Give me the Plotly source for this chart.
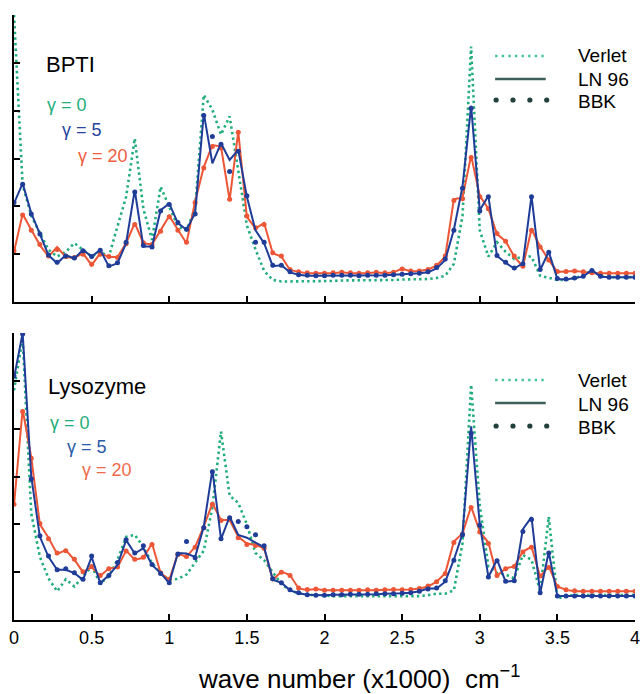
import plotly.graph_objects as go

# Wave number grid, in units of 1000 cm^-1 (73 samples from 0 to 4)
WAVE = [round(i * 4.0 / 72, 5) for i in range(73)]

# ---- BPTI spectra ----
BPTI_VERLET = [
    6.0, 2.45, 1.8, 1.44, 1.09, 0.95, 1.05, 1.23, 1.09, 0.95,
    1.05, 0.95, 1.58, 2.2, 3.42, 1.95, 1.3, 2.41, 1.99, 1.58,
    1.5, 1.95, 4.33, 4.02, 3.5, 3.88, 2.75, 1.6, 1.1, 0.65,
    0.46, 0.43, 0.43, 0.43, 0.43, 0.43, 0.44, 0.44, 0.45, 0.45,
    0.45, 0.46, 0.46, 0.46, 0.46, 0.47, 0.47, 0.47, 0.48, 0.5,
    0.55, 0.8, 1.8, 5.34, 1.5, 0.95, 1.25, 1.05, 0.9, 0.95,
    0.95, 0.55, 0.5, 0.46, 0.46, 0.5, 0.55, 0.67, 0.55, 0.52,
    0.52, 0.52, 0.52,
]
BPTI_LN_G5 = [
    2.06, 2.48, 1.86, 1.40, 0.98, 0.81, 0.98, 0.91, 1.09, 0.95,
    1.09, 0.74, 0.81, 1.23, 2.34, 1.16, 1.16, 1.92, 2.06, 1.65,
    1.51, 1.86, 3.95, 2.90, 3.32, 2.97, 3.18, 2.20, 1.50, 1.23,
    0.75, 0.77, 0.62, 0.57, 0.55, 0.55, 0.55, 0.55, 0.56, 0.55,
    0.55, 0.56, 0.55, 0.56, 0.57, 0.58, 0.58, 0.6, 0.62, 0.7,
    0.88, 1.51, 2.41, 4.1, 1.92, 2.22, 0.96, 0.82, 0.7, 0.81,
    2.22, 0.67, 1.05, 0.48, 0.47, 0.5, 0.53, 0.67, 0.53, 0.52,
    0.52, 0.52, 0.52,
]
BPTI_BBK_G5 = [
    2.08, 2.46, 1.84, 1.42, 0.98, 0.83, 0.96, 0.92, 1.07, 0.95,
    1.08, 0.76, 0.82, 1.25, 2.3, 1.18, 1.15, 1.9, 2.04, 1.66,
    1.52, 1.84, 3.9, 3.46, 3.3, 2.73, 3.15, 2.22, 1.25, 1.25,
    0.77, 0.77, 0.63, 0.57, 0.56, 0.55, 0.55, 0.56, 0.56, 0.56,
    0.55, 0.56, 0.56, 0.56, 0.57, 0.58, 0.59, 0.6, 0.63, 0.72,
    0.9, 1.5, 2.38, 4.05, 1.9, 2.2, 0.97, 0.83, 0.71, 0.8,
    2.2, 0.68, 1.04, 0.49, 0.48, 0.5, 0.54, 0.66, 0.54, 0.52,
    0.52, 0.52, 0.52,
]
BPTI_LN_G20 = [
    1.05, 1.84, 1.51, 1.19, 0.95, 1.15, 0.94, 0.92, 1.02, 0.77,
    1.02, 0.94, 0.94, 1.23, 1.65, 1.23, 1.2, 1.5, 1.8, 1.51,
    1.23, 2.1, 2.82, 3.28, 3.25, 2.13, 3.56, 1.78, 1.54, 1.65,
    1.02, 0.95, 0.67, 0.63, 0.6, 0.6, 0.6, 0.6, 0.62, 0.6,
    0.6, 0.6, 0.62, 0.6, 0.62, 0.7, 0.64, 0.65, 0.68, 0.76,
    0.95, 2.15, 2.18, 3.06, 2.22, 1.95, 1.42, 1.27, 0.95, 0.74,
    1.52, 1.16, 0.88, 0.63, 0.64, 0.65, 0.63, 0.6, 0.6, 0.6,
    0.6, 0.6, 0.6,
]
BPTI_BBK_G20 = [
    1.07, 1.82, 1.5, 1.2, 0.96, 1.1, 0.95, 0.93, 1.0, 0.79,
    1.0, 0.95, 0.93, 1.22, 1.62, 1.24, 1.2, 1.48, 1.78, 1.5,
    1.25, 2.08, 2.8, 3.25, 3.22, 2.15, 3.55, 1.8, 1.55, 1.62,
    1.03, 0.96, 0.68, 0.63, 0.61, 0.6, 0.6, 0.61, 0.62, 0.61,
    0.6, 0.61, 0.62, 0.61, 0.62, 0.69, 0.65, 0.65, 0.68, 0.77,
    0.96, 2.12, 2.16, 3.02, 2.2, 1.95, 1.43, 1.27, 0.96, 0.75,
    1.5, 1.15, 0.88, 0.64, 0.64, 0.65, 0.63, 0.61, 0.6, 0.6,
    0.6, 0.6, 0.6,
]

# ---- Lysozyme spectra ----
LYSO_VERLET = [
    4.8, 5.9, 2.23, 1.32, 0.87, 0.6, 0.85, 0.7, 0.91, 1.12,
    0.77, 0.91, 1.26, 1.74, 1.78, 1.53, 1.19, 0.98, 0.84, 0.86,
    0.95, 1.2, 1.45, 2.35, 3.94, 2.6, 2.45, 2.0, 1.4, 1.25,
    1.0, 0.75, 0.62, 0.56, 0.53, 0.52, 0.5, 0.5, 0.5, 0.5,
    0.5, 0.5, 0.5, 0.5, 0.5, 0.5, 0.5, 0.5, 0.52, 0.55,
    0.55, 0.62, 1.6, 4.92, 2.4, 1.12, 0.98, 0.95, 0.87, 1.36,
    1.26, 0.6, 2.16, 0.45, 0.5, 0.52, 0.52, 0.52, 0.52, 0.52,
    0.52, 0.52, 0.52,
]
LYSO_LN_G5 = [
    5.06, 6.0, 3.0, 1.74, 1.32, 1.05, 1.05, 0.98, 0.84, 1.32,
    0.77, 0.94, 1.15, 1.67, 1.39, 1.5, 1.15, 0.98, 0.77, 1.4,
    1.39, 1.32, 1.95, 3.14, 1.69, 2.16, 1.78, 1.72, 1.62, 1.52,
    0.84, 0.78, 0.62, 0.56, 0.53, 0.52, 0.52, 0.53, 0.53, 0.54,
    0.53, 0.54, 0.54, 0.55, 0.55, 0.56, 0.57, 0.6, 0.66, 0.66,
    0.8, 1.26, 1.8, 4.05, 2.0, 0.9, 1.26, 0.8, 0.82, 1.9,
    2.15, 0.56, 1.42, 0.5, 0.5, 0.5, 0.5, 0.5, 0.5, 0.5,
    0.5, 0.5, 0.5,
]
LYSO_BBK_G5 = [
    5.1, 5.98, 2.95, 1.76, 1.34, 1.05, 1.07, 0.99, 0.85, 1.34,
    0.78, 0.93, 1.2, 1.68, 1.4, 1.55, 1.16, 0.97, 0.78, 1.38,
    1.64, 1.3, 1.93, 3.1, 1.7, 2.14, 2.06, 1.95, 1.78, 1.55,
    0.86, 0.78, 0.63, 0.57, 0.53, 0.52, 0.52, 0.53, 0.53, 0.54,
    0.54, 0.54, 0.55, 0.55, 0.55, 0.56, 0.57, 0.6, 0.65, 0.67,
    0.82, 1.25, 1.78, 3.9, 1.98, 0.9, 1.24, 0.81, 0.82, 1.85,
    2.1, 0.57, 1.4, 0.5, 0.5, 0.5, 0.5, 0.5, 0.5, 0.5,
    0.5, 0.5, 0.5,
]
LYSO_LN_G20 = [
    2.4, 4.4, 3.4, 2.0, 1.72, 1.38, 1.46, 1.26, 1.0, 1.1,
    0.92, 1.08, 1.1, 1.45, 1.26, 1.3, 1.6, 0.98, 0.84, 1.39,
    1.32, 1.53, 1.95, 2.44, 2.09, 2.09, 1.74, 1.6, 1.57, 1.5,
    0.84, 1.01, 0.94, 0.66, 0.63, 0.65, 0.62, 0.62, 0.61, 0.62,
    0.62, 0.62, 0.62, 0.63, 0.63, 0.63, 0.64, 0.66, 0.7, 0.8,
    0.98, 1.64, 1.81, 2.37, 1.85, 1.62, 0.92, 1.08, 1.12, 1.43,
    1.53, 0.91, 1.12, 0.7, 0.63, 0.6, 0.6, 0.6, 0.6, 0.6,
    0.6, 0.6, 0.6,
]
LYSO_BBK_G20 = [
    2.42, 4.36, 3.38, 2.02, 1.7, 1.4, 1.45, 1.27, 1.01, 1.12,
    0.93, 1.07, 1.11, 1.44, 1.27, 1.31, 1.58, 0.99, 0.85, 1.37,
    1.33, 1.52, 1.93, 2.42, 2.08, 2.1, 1.72, 1.58, 1.56, 1.5,
    0.86, 1.0, 0.93, 0.67, 0.64, 0.65, 0.62, 0.62, 0.62, 0.62,
    0.62, 0.63, 0.62, 0.63, 0.64, 0.63, 0.64, 0.66, 0.71, 0.8,
    0.97, 1.62, 1.8, 2.35, 1.84, 1.6, 0.93, 1.07, 1.12, 1.42,
    1.52, 0.92, 1.1, 0.7, 0.63, 0.61, 0.6, 0.6, 0.6, 0.6,
    0.6, 0.6, 0.6,
]

X_TICKS = [0, 0.5, 1, 1.5, 2, 2.5, 3, 3.5, 4]
X_TICK_TEXT = ["0", "0.5", "1", "1.5", "2", "2.5", "3", "3.5", "4"]
Y_TICKS = [0, 1, 2, 3, 4, 5, 6]

GREEN = "#1fad79"
BLUE = "#1f3c98"
RED = "#ec5636"
LEG_LINE = "#3c5f5c"
LEG_DOT = "#22403b"

SANS = "Liberation Sans, Arial, sans-serif"

W, H = 644, 694
ML, MR, MT, MB = 14, 4, 15, 74
PW, PH = W - ML - MR, H - MT - MB


def paper(px, py):
    """Convert page pixels to paper coordinates."""
    return (px - ML) / PW, (H - MB - py) / PH


fig = go.Figure()

panels = [
    ("x", "y", BPTI_VERLET, BPTI_LN_G5, BPTI_BBK_G5, BPTI_LN_G20, BPTI_BBK_G20),
    ("x2", "y2", LYSO_VERLET, LYSO_LN_G5, LYSO_BBK_G5, LYSO_LN_G20, LYSO_BBK_G20),
]
for xa, ya, verlet, ln5, bbk5, ln20, bbk20 in panels:
    fig.add_trace(go.Scatter(x=WAVE, y=verlet, xaxis=xa, yaxis=ya, mode="lines",
                             line=dict(color=GREEN, width=2.6, dash="2.4px,3.2px"),
                             showlegend=False))
    fig.add_trace(go.Scatter(x=WAVE, y=ln20, xaxis=xa, yaxis=ya, mode="lines",
                             line=dict(color=RED, width=2), showlegend=False))
    fig.add_trace(go.Scatter(x=WAVE, y=bbk20, xaxis=xa, yaxis=ya, mode="markers",
                             marker=dict(color=RED, size=5), showlegend=False))
    fig.add_trace(go.Scatter(x=WAVE, y=ln5, xaxis=xa, yaxis=ya, mode="lines",
                             line=dict(color=BLUE, width=2), showlegend=False))
    fig.add_trace(go.Scatter(x=WAVE, y=bbk5, xaxis=xa, yaxis=ya, mode="markers",
                             marker=dict(color=BLUE, size=5), showlegend=False))

axis_common = dict(showline=True, linecolor="black", linewidth=2, ticks="inside",
                   ticklen=6, tickwidth=1.6, tickcolor="black", showgrid=False,
                   zeroline=False, mirror=False, fixedrange=True)

top_lo = paper(0, 302)[1]
bot_hi = paper(0, 333)[1]

fig.update_layout(
    width=W, height=H,
    margin=dict(l=ML, r=MR, t=MT, b=MB),
    paper_bgcolor="white", plot_bgcolor="white",
    showlegend=False,
    xaxis=dict(range=[0, 4], tickvals=X_TICKS, showticklabels=False,
               anchor="y", **axis_common),
    yaxis=dict(range=[0, 6], tickvals=Y_TICKS, showticklabels=False,
               domain=[top_lo, 1], anchor="x", **axis_common),
    xaxis2=dict(range=[0, 4], tickvals=X_TICKS, ticktext=X_TICK_TEXT,
                tickfont=dict(family=SANS, size=18, color="black"),
                ticklabeloverflow="allow",
                anchor="y2", **axis_common),
    yaxis2=dict(range=[0, 6], tickvals=Y_TICKS, showticklabels=False,
                domain=[0, bot_hi], anchor="x2", **axis_common),
)

annotations = []
shapes = []


def add_text(text, px, py, size, color, anchor="left"):
    x, y = paper(px, py)
    annotations.append(dict(text=text, x=x, y=y, xref="paper", yref="paper",
                            xanchor=anchor, yanchor="middle", showarrow=False,
                            font=dict(family=SANS, size=size, color=color)))


def add_legend(y_verlet, y_ln, y_bbk):
    x0, _ = paper(499, 0)
    x1, _ = paper(550, 0)
    _, yv = paper(0, y_verlet)
    _, yl = paper(0, y_ln)
    _, yb = paper(0, y_bbk)
    shapes.append(dict(type="line", xref="paper", yref="paper", x0=x0, x1=x1,
                       y0=yv, y1=yv, line=dict(color="#45c29a", width=2.4, dash="2.4px,4.2px")))
    shapes.append(dict(type="line", xref="paper", yref="paper", x0=x0, x1=x1,
                       y0=yl, y1=yl, line=dict(color=LEG_LINE, width=2.4)))
    for dx in (500, 517, 534, 551):
        xd, _ = paper(dx, 0)
        shapes.append(dict(type="circle", xref="paper", yref="paper",
                           xsizemode="pixel", ysizemode="pixel",
                           xanchor=xd, yanchor=yb, x0=-2.6, x1=2.6, y0=-2.6, y1=2.6,
                           fillcolor=LEG_DOT, line=dict(width=0)))
    add_text("Verlet", 581, y_verlet, 19, "black")
    add_text("LN 96", 581, y_ln + 1, 19, "black")
    add_text("BBK", 581, y_bbk + 1, 19, "black")


# BPTI panel labels
add_text("BPTI", 44, 64, 22, "black")
add_text("γ = 0", 45, 105, 18, GREEN)
add_text("γ = 5", 60, 130, 18, "#27449e")
add_text("γ = 20", 76, 156, 18, "#ee5e3e")
add_legend(56, 79, 100)

# Lysozyme panel labels
add_text("Lysozyme", 46, 386, 22, "black")
add_text("γ = 0", 48, 423, 18, GREEN)
add_text("γ = 5", 65, 447, 18, "#2a5aa8")
add_text("γ = 20", 81, 470, 18, "#ee6a4c")
add_legend(380, 403, 426)

# x-axis title
add_text("wave number (x1000)  cm<sup>−1</sup>", 362, 677, 26, "black", anchor="center")

fig.update_layout(annotations=annotations, shapes=shapes)

fig.write_html("out.html")
